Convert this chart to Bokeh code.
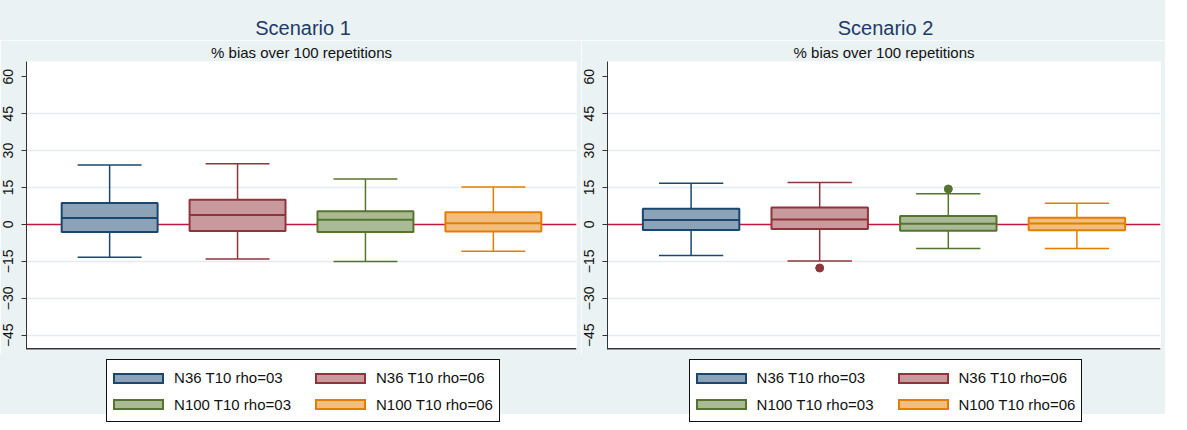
from bokeh.plotting import figure
from bokeh.layouts import row, column
from bokeh.models import Range1d, FixedTicker, Div
from bokeh.embed import file_html
from bokeh.resources import INLINE

# ---------------- data ----------------
series_labels = ["N36 T10 rho=03", "N36 T10 rho=06", "N100 T10 rho=03", "N100 T10 rho=06"]
y_ticks = [-45, -30, -15, 0, 15, 30, 45, 60]
panel_titles = ["Scenario 1", "Scenario 2"]
subtitle = "% bias over 100 repetitions"

# Scenario 1
s1_lower = [-13.3, -14.0, -15.0, -10.9]
s1_q1 = [-3.1, -2.7, -3.1, -2.9]
s1_median = [2.6, 3.8, 1.9, 0.5]
s1_q3 = [8.7, 10.0, 5.4, 5.0]
s1_upper = [24.2, 24.7, 18.5, 15.2]
s1_out_series = []
s1_out_values = []

# Scenario 2
s2_lower = [-12.6, -14.8, -9.8, -9.8]
s2_q1 = [-2.3, -1.8, -2.6, -2.4]
s2_median = [1.8, 2.0, 0.3, 0.4]
s2_q3 = [6.4, 6.9, 3.4, 2.7]
s2_upper = [16.7, 17.0, 12.5, 8.6]
s2_out_series = [1, 2]
s2_out_values = [-17.7, 14.4]

# ---------------- style ----------------
line_colors = ["#1A476F", "#90353B", "#55752F", "#E37E00"]
fill_colors = ["#8CA3B7", "#C89A9D", "#AABA97", "#F1BE7F"]
BG = "#EAF2F3"
FONT = "Liberation Sans"
BOX_W = 0.75
CAP_W = 0.5
X_START, X_END = 0.35, 4.65
Y_START, Y_END = -50.8, 66.2


def title_div(text, width):
    html = ('<div style="width:%dpx;box-sizing:border-box;padding-left:25px;'
            'padding-top:14px;text-align:center;font-family:\'%s\';font-size:20px;'
            'color:#1E3A68;">%s</div>' % (width, FONT, text))
    return Div(text=html, width=width, height=40, margin=(0, 0, 0, 0),
               styles={"background-color": BG})


def legend_div(width):
    cells = []
    for i, (lab, fc, lc) in enumerate(zip(series_labels, fill_colors, line_colors)):
        pad_r = 24 if i % 2 == 0 else 0
        cells.append(
            '<td style="padding:2px %dpx 2px 0;white-space:nowrap;">'
            '<span style="display:inline-block;width:51px;height:11px;background:%s;'
            'border:2px solid %s;vertical-align:middle;"></span>'
            '<span style="vertical-align:middle;margin-left:10px;">%s</span></td>'
            % (pad_r, fc, lc, lab))
    rows_html = "".join("<tr>%s</tr>" % "".join(cells[k:k + 2]) for k in range(0, len(cells), 2))
    html = ('<div style="width:%dpx;box-sizing:border-box;padding-left:25px;padding-top:5px;">'
            '<table style="margin:0 auto;border:1px solid #111;background:#fff;'
            'border-collapse:separate;border-spacing:0;padding:4px 6px;'
            'font-family:\'%s\';font-size:15px;color:#111;">%s</table></div>'
            % (width, FONT, rows_html))
    return Div(text=html, width=width, height=60, margin=(0, 0, 0, 0),
               styles={"background-color": BG})


def make_panel(title, lower, q1, med, q3, upper, out_s, out_v, width):
    xs = list(range(1, len(series_labels) + 1))
    p = figure(width=width, height=314, title=subtitle,
               x_range=Range1d(X_START, X_END), y_range=Range1d(Y_START, Y_END),
               output_backend="svg", toolbar_location=None,
               background_fill_color="white", border_fill_color=BG,
               outline_line_color=None)

    p.title.align = "center"
    p.title.text_font = FONT
    p.title.text_font_size = "15px"
    p.title.text_font_style = "normal"
    p.title.text_color = "#111111"
    p.title.standoff = 2

    p.xaxis.visible = False
    p.xgrid.visible = False

    p.yaxis.ticker = FixedTicker(ticks=y_ticks)
    p.yaxis.major_label_orientation = "vertical"
    p.yaxis.major_label_text_font = FONT
    p.yaxis.major_label_text_font_size = "14px"
    p.yaxis.major_label_text_color = "#111111"
    p.yaxis.major_label_standoff = 8
    p.yaxis.major_tick_out = 5
    p.yaxis.major_tick_in = 0
    p.yaxis.major_tick_line_color = "#333333"
    p.yaxis.minor_tick_line_color = None
    p.yaxis.axis_line_color = "#333333"

    p.ygrid.ticker = FixedTicker(ticks=[t for t in y_ticks if t not in (0, max(y_ticks))])
    p.ygrid.grid_line_color = "#E3ECEE"
    p.ygrid.grid_line_width = 1.5

    # zero reference line and bottom frame line
    p.segment(x0=[X_START], y0=[0], x1=[X_END], y1=[0], line_color="#C8143C", line_width=1.5)
    p.segment(x0=[X_START], y0=[Y_START], x1=[X_END], y1=[Y_START],
              line_color="#333333", line_width=3)

    # whiskers and caps
    p.segment(x0=xs, y0=q3, x1=xs, y1=upper, line_color=line_colors, line_width=1.5)
    p.segment(x0=xs, y0=q1, x1=xs, y1=lower, line_color=line_colors, line_width=1.5)
    cl = [x - CAP_W / 2 for x in xs]
    cr = [x + CAP_W / 2 for x in xs]
    p.segment(x0=cl, y0=upper, x1=cr, y1=upper, line_color=line_colors, line_width=1.5)
    p.segment(x0=cl, y0=lower, x1=cr, y1=lower, line_color=line_colors, line_width=1.5)

    # boxes and medians
    p.vbar(x=xs, width=BOX_W, bottom=q1, top=q3,
           fill_color=fill_colors, line_color=line_colors, line_width=2)
    bl = [x - BOX_W / 2 for x in xs]
    br = [x + BOX_W / 2 for x in xs]
    p.segment(x0=bl, y0=med, x1=br, y1=med, line_color=line_colors, line_width=2)

    # outliers
    if out_s:
        p.scatter(x=[s + 1 for s in out_s], y=out_v, size=8,
                  fill_color=[line_colors[s] for s in out_s],
                  line_color=[line_colors[s] for s in out_s])

    return column(title_div(title, width), p, legend_div(width), spacing=0)


c1 = make_panel(panel_titles[0], s1_lower, s1_q1, s1_median, s1_q3, s1_upper,
                s1_out_series, s1_out_values, 581)
c2 = make_panel(panel_titles[1], s2_lower, s2_q1, s2_median, s2_q3, s2_upper,
                s2_out_series, s2_out_values, 584)

layout = row(c1, c2, spacing=0)
open("out.html", "w").write(file_html(layout, INLINE))
